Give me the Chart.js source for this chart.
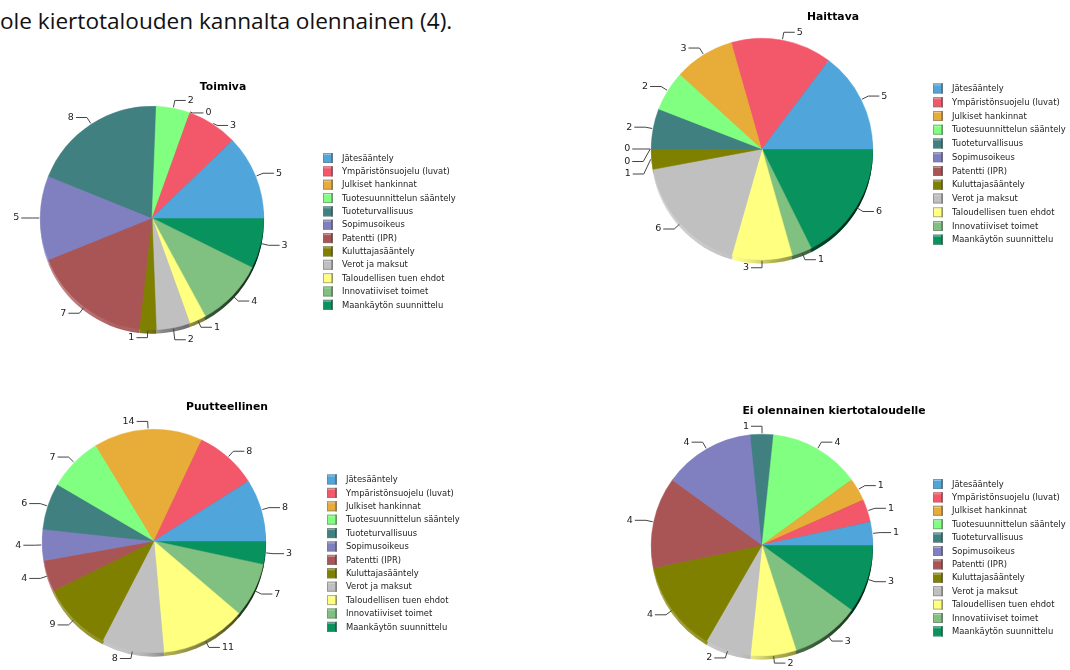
<!DOCTYPE html>
<html><head><meta charset="utf-8">
<script src="https://cdn.jsdelivr.net/npm/chart.js@4.4.1/dist/chart.umd.min.js"></script>
<style>
html,body{margin:0;padding:0;background:#fff;width:1070px;height:670px;overflow:hidden;}
#head{position:absolute;left:0px;top:5px;font-family:'Open Sans',Lato,sans-serif;font-size:22.6px;line-height:normal;color:#111;white-space:nowrap;}
canvas{position:absolute;left:0;top:0;}
</style></head><body>
<div id="head">ole kiertotalouden kannalta olennainen (4).</div>
<canvas id="c1" width="1070" height="670"></canvas>
<canvas id="c2" width="1070" height="670"></canvas>
<canvas id="c3" width="1070" height="670"></canvas>
<canvas id="c4" width="1070" height="670"></canvas>
<script>
const categories = ['Jätesääntely','Ympäristönsuojelu (luvat)','Julkiset hankinnat','Tuotesuunnittelun sääntely','Tuoteturvallisuus','Sopimusoikeus','Patentti (IPR)','Kuluttajasääntely','Verot ja maksut','Taloudellisen tuen ehdot','Innovatiiviset toimet','Maankäytön suunnittelu'];
const toimiva = [5,3,0,2,8,5,7,1,2,1,4,3];
const haittava = [5,5,3,2,2,0,0,1,6,3,1,6];
const puutteellinen = [8,8,14,7,6,4,4,9,8,11,7,3];
const eiOlennainen = [1,1,1,4,1,4,4,4,2,2,3,3];
const titles = ['Toimiva','Haittava','Puutteellinen','Ei olennainen kiertotaloudelle'];
const colors = ['#50A6DA','#F2586A','#E8AC39','#80FF80','#408080','#8080C0','#AA5555','#808000','#C0C0C0','#FFFF80','#80C080','#07925E'];

const W = 1070, H = 670;
const panels = [
  {id:'c1', title:titles[0], values:toimiva, cx:152, cy:218, r:112, tx:223, ty:87, lx:323, ly:158, step:13.35},
  {id:'c2', title:titles[1], values:haittava, cx:762, cy:149, r:111, tx:833, ty:17, lx:933, ly:88.5, step:13.75},
  {id:'c3', title:titles[2], values:puutteellinen, cx:154, cy:541, r:112, tx:227, ty:407, lx:327, ly:479.5, step:13.4},
  {id:'c4', title:titles[3], values:eiOlennainen, cx:762, cy:545, r:111, tx:834, ty:411, lx:933, ly:484, step:13.4}
];

function shade(hex, f){
  const n = parseInt(hex.slice(1),16);
  let r=(n>>16)&255,g=(n>>8)&255,b=n&255;
  if(f>=0){r=r+(255-r)*f;g=g+(255-g)*f;b=b+(255-b)*f;}
  else{r=r*(1+f);g=g*(1+f);b=b*(1+f);}
  return 'rgb('+Math.round(r)+','+Math.round(g)+','+Math.round(b)+')';
}

const pieExtras = {
  id:'pieExtras',
  beforeDatasetsDraw(chart, args, opts){
    const ctx = chart.ctx, meta = chart.getDatasetMeta(0);
    const d = 4;
    ctx.save();
    meta.data.forEach((el,i)=>{
      if(el.endAngle - el.startAngle <= 0) return;
      ctx.beginPath();
      ctx.moveTo(el.x, el.y + d);
      ctx.arc(el.x, el.y + d, el.outerRadius, el.startAngle, el.endAngle);
      ctx.closePath();
      ctx.fillStyle = chart.data.datasets[0].backgroundColor[i];
      ctx.fill();
    });
    const el0 = meta.data[0];
    const R = el0.outerRadius;
    const g = ctx.createLinearGradient(el0.x - R, 0, el0.x + R, 0);
    g.addColorStop(0, 'rgba(255,255,255,0.35)');
    g.addColorStop(0.35, 'rgba(255,255,255,0.05)');
    g.addColorStop(0.55, 'rgba(0,0,0,0.3)');
    g.addColorStop(1, 'rgba(0,0,0,0.85)');
    ctx.beginPath();
    ctx.arc(el0.x, el0.y + d, R, 0, Math.PI*2);
    ctx.fillStyle = g;
    ctx.fill();
    ctx.restore();
  },
  afterDatasetsDraw(chart, args, opts){
    const ctx = chart.ctx, meta = chart.getDatasetMeta(0);
    const vals = chart.data.datasets[0].data;
    const items = [];
    meta.data.forEach((el,i)=>{
      const a = (el.startAngle + el.endAngle)/2;
      const R = el.outerRadius;
      const ex = el.x + Math.cos(a)*(R+1), ey = el.y + Math.sin(a)*(R+1);
      const bx = el.x + Math.cos(a)*(R+8), by = el.y + Math.sin(a)*(R+8);
      const right = Math.cos(a) > 1e-4;
      items.push({ex,ey,bx,by,right,y:by,v:vals[i]});
    });
    [true,false].forEach(side=>{
      const grp = items.filter(it=>it.right===side).sort((p,q)=>p.y-q.y);
      for(let k=1;k<grp.length;k++){
        if(grp[k].y - grp[k-1].y < 12.5) grp[k].y = grp[k-1].y + 12.5;
      }
    });
    ctx.save();
    ctx.strokeStyle = '#444';
    ctx.lineWidth = 1;
    ctx.fillStyle = '#222';
    ctx.font = '9.5px "DejaVu Sans", Verdana, sans-serif';
    ctx.textBaseline = 'middle';
    items.forEach(it=>{
      const hx = it.right ? it.bx + 11 : it.bx - 11;
      ctx.beginPath();
      ctx.moveTo(it.ex, it.ey);
      ctx.lineTo(it.bx, it.y);
      ctx.lineTo(hx, it.y);
      ctx.stroke();
      ctx.textAlign = it.right ? 'left' : 'right';
      ctx.fillText(String(it.v), it.right ? hx + 2 : hx - 2, it.y);
    });
    ctx.font = 'bold 10.8px "DejaVu Sans", Verdana, sans-serif';
    ctx.fillStyle = '#000';
    ctx.textAlign = 'center';
    ctx.fillText(opts.title, opts.tx, opts.ty);
    ctx.font = '8.4px "DejaVu Sans", Verdana, sans-serif';
    ctx.textAlign = 'left';
    opts.cats.forEach((c,i)=>{
      const y = opts.ly + i*opts.step;
      const x = opts.lx;
      const col = opts.cols[i];
      ctx.fillStyle = col;
      ctx.fillRect(x, y-5, 10, 10);
      ctx.fillStyle = shade(col, 0.35);
      ctx.fillRect(x, y-5, 10, 2);
      ctx.fillStyle = shade(col, -0.25);
      ctx.fillRect(x+8, y-5, 2, 10);
      ctx.strokeStyle = 'rgba(120,120,120,0.6)';
      ctx.strokeRect(x+0.5, y-4.5, 9, 9);
      ctx.fillStyle = '#222';
      ctx.fillText(c, x + 19, y + 0.5);
    });
    ctx.restore();
  }
};

panels.forEach(p=>{
  const revVals = p.values.slice().reverse();
  const revCats = categories.slice().reverse();
  const revCols = colors.slice().reverse();
  new Chart(document.getElementById(p.id), {
    type:'pie',
    data:{labels:revCats, datasets:[{data:revVals, backgroundColor:revCols, borderColor:revCols, borderWidth:0.5}]},
    options:{
      responsive:false, animation:false, rotation:90,
      layout:{padding:{left:p.cx-p.r, top:p.cy-p.r, right:W-(p.cx+p.r), bottom:H-(p.cy+p.r)}},
      plugins:{legend:{display:false}, tooltip:{enabled:false}, title:{display:false},
        pieExtras:{title:p.title, tx:p.tx, ty:p.ty, lx:p.lx, ly:p.ly, step:p.step, cats:categories, cols:colors}}
    },
    plugins:[pieExtras]
  });
});
</script>
</body></html>
